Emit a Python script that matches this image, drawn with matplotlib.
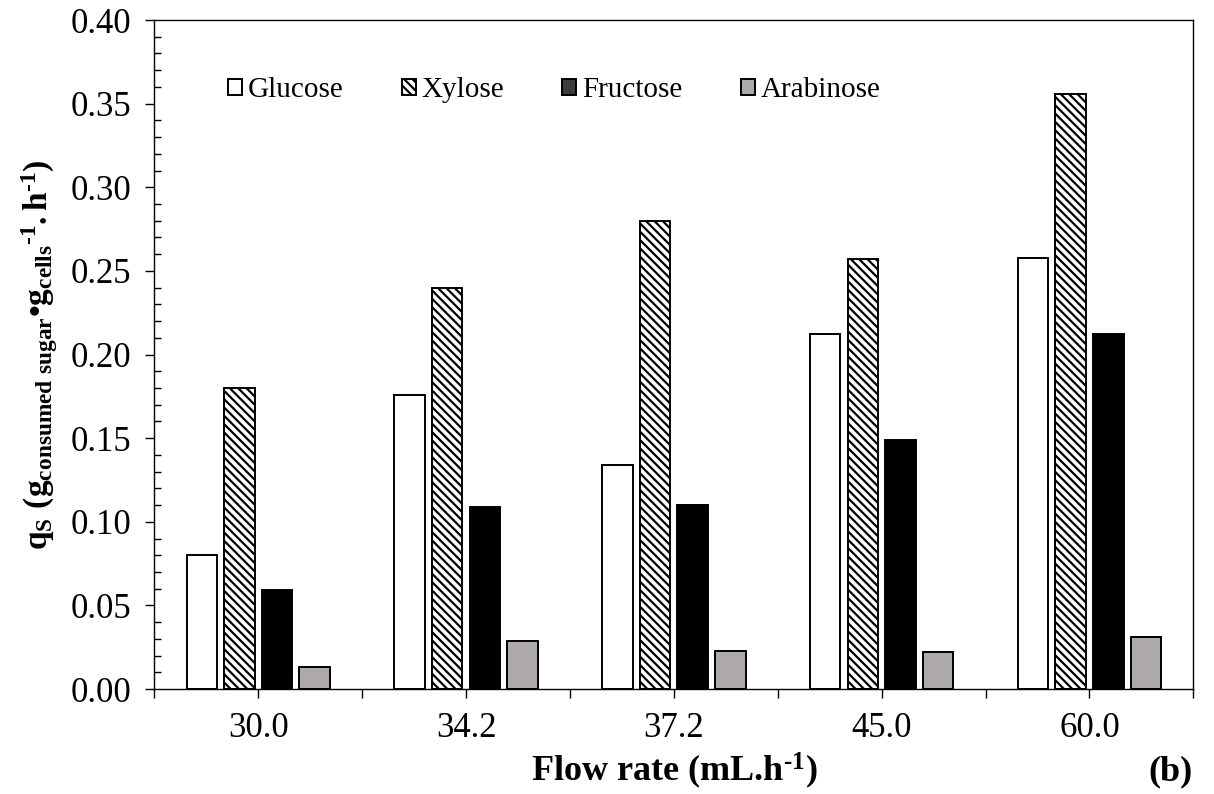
import numpy as np
import matplotlib
matplotlib.use('Agg')
import matplotlib.pyplot as plt
from matplotlib.patches import Patch
from matplotlib.ticker import MultipleLocator

flow_rates = ['30.0', '34.2', '37.2', '45.0', '60.0']
sugars = ['Glucose', 'Xylose', 'Fructose', 'Arabinose']
glucose = [0.080, 0.176, 0.134, 0.212, 0.258]
xylose = [0.180, 0.240, 0.280, 0.257, 0.356]
fructose = [0.059, 0.109, 0.110, 0.149, 0.212]
arabinose = [0.013, 0.029, 0.023, 0.022, 0.031]

plt.rcParams['font.family'] = ['Liberation Serif', 'DejaVu Serif']
plt.rcParams['mathtext.fontset'] = 'custom'
plt.rcParams['mathtext.rm'] = 'Liberation Serif:bold'
plt.rcParams['mathtext.it'] = 'Liberation Serif:bold'
plt.rcParams['mathtext.bf'] = 'Liberation Serif:bold'
plt.rcParams['hatch.linewidth'] = 1.6

# fill, hatch, legend fill
styles = [('white', None, 'white'),
          ('white', '\\\\\\\\', 'white'),
          ('black', None, '#3c3c3c'),
          ('#aeaaaa', None, '#aeaaaa')]

fig = plt.figure(figsize=(12.14, 7.94), dpi=100)
ax = fig.add_axes([0.1271, 0.1322, 0.8559, 0.8426])

x = np.arange(len(flow_rates))
width = 0.147
step = 0.181
handles = []
for i, vals in enumerate([glucose, xylose, fructose, arabinose]):
    fc, hatch, lfc = styles[i]
    ax.bar(x + (i - 1.5) * step, vals, width, color=fc, hatch=hatch,
           edgecolor='black', linewidth=1.4)
    handles.append(Patch(facecolor=lfc, hatch=hatch, edgecolor='black',
                         linewidth=1.4, label=sugars[i]))

ax.set_xlim(-0.5, len(flow_rates) - 0.5)
ax.set_ylim(0, 0.40)
ax.yaxis.set_major_locator(MultipleLocator(0.05))
ax.yaxis.set_minor_locator(MultipleLocator(0.01))
ax.yaxis.set_major_formatter(matplotlib.ticker.FormatStrFormatter('%.2f'))

xt = np.arange(-0.5, len(flow_rates), 0.5)
xl = ['' if i % 2 == 0 else flow_rates[i // 2] for i in range(len(xt))]
ax.set_xticks(xt)
ax.set_xticklabels(xl)

ax.tick_params(axis='both', which='major', direction='out', length=6.5,
               width=1.0, labelsize=25)
ax.tick_params(axis='x', pad=10)
ax.tick_params(axis='y', pad=10)
ax.tick_params(axis='y', which='minor', direction='in', length=5, width=1.0)
for s in ax.spines.values():
    s.set_linewidth(1.0)

hy = '\u2010'
ax.set_xlabel('Flow rate (mL.h$^{' + hy + '1}$)', fontsize=26,
              fontweight='bold', labelpad=4)
ax.set_ylabel(r'$\mathrm{q_S\ (g_{consumed\ sugar}' + '\u2022' +
              r'g_{cells}{}^{' + hy + r'1}.h^{' + hy + r'1})}$',
              fontsize=24, labelpad=8)

ax.legend(handles=handles, loc='center left', bbox_to_anchor=(0.0706, 0.895),
          ncol=4, frameon=False, fontsize=21, handlelength=0.48,
          handleheight=0.48, handletextpad=0.2, columnspacing=2.0,
          borderpad=0, borderaxespad=0)

fig.text(0.982, 1 - 772 / 794, '(b)', ha='right', va='center',
         fontsize=26, fontweight='bold')

fig.savefig('out.png', dpi=100)
